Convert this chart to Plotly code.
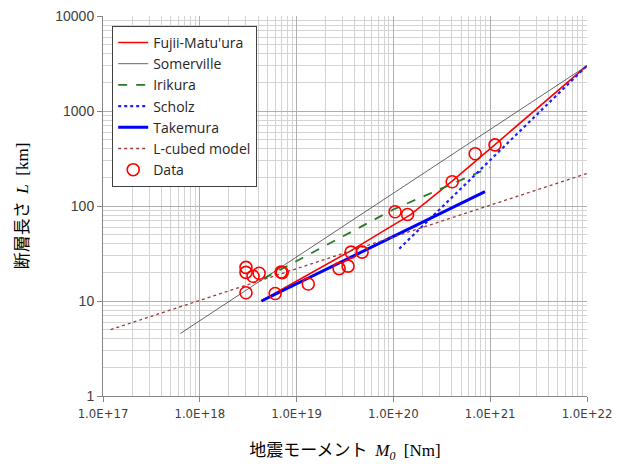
import plotly.graph_objects as go

# values (M0 in Nm, L in km)
fujii_m = [4.3e18, 3.57e19, 1.52e20, 4.04e20, 1.12e21, 1.0e22]
fujii_l = [10.0, 33.5, 81.5, 183, 443, 3000]

somerville_m = [6.3e17, 1.0e22]
somerville_l = [4.55, 3000]

irikura_m = [4.55e18, 1.0e20, 1.0e21]
irikura_l = [17.2, 92, 255]

scholz_m = [1.15e20, 1.0e22]
scholz_l = [35.5, 3000]

takemura_m = [4.34e18, 8.83e20]
takemura_l = [10.0, 142]

lcubed_m = [1.2e17, 1.0e22]
lcubed_l = [5.0, 220]

data_m = [3.0e18, 3.0e18, 3.55e18, 4.1e18, 3.0e18, 6.0e18, 6.9e18, 7.1e18, 1.32e19,
          2.75e19, 3.4e19, 3.65e19, 4.75e19, 1.04e20, 1.4e20, 4.05e20, 7.0e20, 1.12e21]
data_l = [22.6, 20.0, 18.2, 19.6, 12.2, 12.0, 20.2, 19.9, 15.1,
          21.9, 23.3, 32.7, 32.7, 87, 81.5, 180, 355, 440]

x_ticks = [1e17, 1e18, 1e19, 1e20, 1e21, 1e22]
x_labels = ['1.0E+17', '1.0E+18', '1.0E+19', '1.0E+20', '1.0E+21', '1.0E+22']
y_ticks = [1, 10, 100, 1000, 10000]
y_labels = ['1', '10', '100', '1000', '10000']

fig = go.Figure()
fig.add_trace(go.Scatter(x=fujii_m, y=fujii_l, mode='lines', name="Fujii-Matu'ura",
                         line=dict(color='#ff0000', width=1.6)))
fig.add_trace(go.Scatter(x=somerville_m, y=somerville_l, mode='lines', name='Somerville',
                         line=dict(color='#404040', width=0.8)))
fig.add_trace(go.Scatter(x=irikura_m, y=irikura_l, mode='lines', name='Irikura',
                         line=dict(color='#2a7a2a', width=1.8, dash='dash')))
fig.add_trace(go.Scatter(x=scholz_m, y=scholz_l, mode='lines', name='Scholz',
                         line=dict(color='#1f1fff', width=2.2, dash='dot')))
fig.add_trace(go.Scatter(x=takemura_m, y=takemura_l, mode='lines', name='Takemura',
                         line=dict(color='#0000ff', width=3)))
fig.add_trace(go.Scatter(x=lcubed_m, y=lcubed_l, mode='lines', name='L-cubed model',
                         line=dict(color='#9b3a3a', width=1.3, dash='dot')))
fig.add_trace(go.Scatter(x=data_m, y=data_l, mode='markers', name='Data',
                         marker=dict(symbol='circle-open', size=12, color='#ff0000',
                                     line=dict(width=1.6))))

fig.update_xaxes(type='log', range=[17, 22], tickmode='array', tickvals=x_ticks, ticktext=x_labels,
                 showgrid=True, gridcolor='#b0b0b0', gridwidth=1,
                 minor=dict(dtick='D1', showgrid=True, gridcolor='#d4d4d4', gridwidth=1),
                 showline=True, linecolor='#868686', linewidth=1,
                 ticks='outside', ticklen=5, tickcolor='#868686',
                 tickfont=dict(family='DejaVu Sans Condensed, Liberation Sans', size=13, color='#404040'),
                 zeroline=False, automargin=False, ticklabeloverflow='allow',
                 title=dict(text='地震モーメント  <span style="font-family:Liberation Serif"><i>M<sub>0</sub></i>  [Nm]</span>',
                            font=dict(family='Noto Sans CJK JP', size=17, color='#000000'),
                            standoff=24))
fig.update_yaxes(type='log', range=[0, 4], tickmode='array', tickvals=y_ticks, ticktext=y_labels,
                 showgrid=True, gridcolor='#b0b0b0', gridwidth=1,
                 minor=dict(dtick='D1', showgrid=True, gridcolor='#d4d4d4', gridwidth=1),
                 showline=True, linecolor='#868686', linewidth=1,
                 ticks='outside', ticklen=5, tickcolor='#868686',
                 tickfont=dict(family='Liberation Sans', size=14, color='#404040'),
                 zeroline=False, automargin=False, ticklabeloverflow='allow',
                 title=dict(text='断層長さ  <span style="font-family:Liberation Serif"><i>L</i>  [km]</span>',
                            font=dict(family='Noto Sans CJK JP', size=17, color='#000000'),
                            standoff=34))

# page body adds 8px, so margins are offset to land the plot where the reference has it
fig.update_layout(
    width=623, height=464,
    margin=dict(l=95, r=44, t=8, b=76),
    paper_bgcolor='white', plot_bgcolor='white',
    showlegend=True,
    legend=dict(x=0.019, y=0.974, xanchor='left', yanchor='top',
                bgcolor='white', bordercolor='#404040', borderwidth=1,
                font=dict(family='Open Sans', size=14, color='#262626'),
                tracegroupgap=0, itemwidth=30),
)

fig.write_html("out.html")
